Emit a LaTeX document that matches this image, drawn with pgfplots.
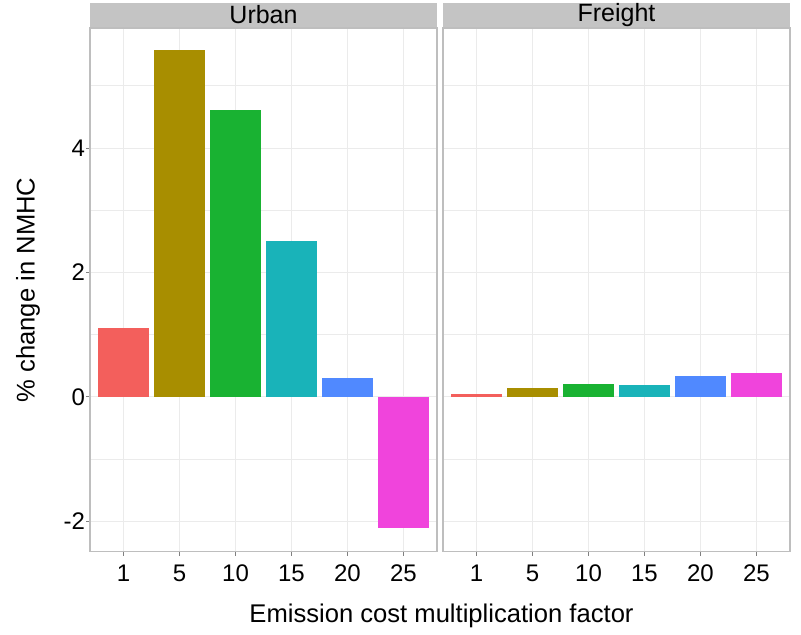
\documentclass[border=0pt]{standalone}
\usepackage{fontspec}
\setmainfont{Liberation Sans}
\usepackage{pgfplots}
\pgfplotsset{compat=1.18}
\definecolor{c1}{RGB}{243,95,92}
\definecolor{c2}{RGB}{168,142,0}
\definecolor{c3}{RGB}{25,178,50}
\definecolor{c4}{RGB}{25,179,185}
\definecolor{c5}{RGB}{80,137,255}
\definecolor{c6}{RGB}{240,68,220}
\definecolor{gridc}{RGB}{235,235,235}
\definecolor{borderc}{RGB}{190,190,190}
\definecolor{stripc}{RGB}{196,196,196}
\pgfplotsset{
  panel/.style={
    scale only axis, width=173.5pt, height=261.85pt,
    xmin=0.4, xmax=6.6, ymin=-2.49, ymax=5.93,
    xtick={1,2,3,4,5,6}, xticklabels={1,5,10,15,20,25},
    ytick={-2,0,2,4}, minor ytick={-1,1,3,5},
    ymajorgrids, yminorgrids, xmajorgrids,
    major grid style={gridc, line width=0.5pt},
    minor grid style={gridc, line width=0.4pt},
    axis line style={borderc, line width=0.6pt},
    tick align=outside, major tick length=2pt, minor tick length=0pt,
    tick style={gray, line width=0.5pt},
    xtick pos=bottom, ytick pos=left,
    ticklabel style={font=\fontsize{12}{14}\selectfont, text=black},
    xticklabel style={yshift=-1pt},
    yticklabel style={xshift=3pt},
    /pgf/number format/assume math mode=true,
    ybar, bar width=0.9,
    every axis plot/.append style={draw=none, bar shift=0pt},
    clip=false,
    every axis title shift=0pt,
    title style={at={(0.5,1)}, anchor=south, yshift=0.3pt, fill=stripc,
      minimum width=173.5pt, minimum height=12pt, inner sep=0pt,
      font=\fontsize{12.5}{14}\selectfont},
  }
}
\begin{document}
\begin{tikzpicture}
\path[use as bounding box] (0,0) rectangle (400.5pt,317pt);
\begin{axis}[panel, at={(45pt,41.15pt)}, anchor=south west, title={Urban}]
\addplot[fill=c1] coordinates {(1,1.10)};
\addplot[fill=c2] coordinates {(2,5.58)};
\addplot[fill=c3] coordinates {(3,4.61)};
\addplot[fill=c4] coordinates {(4,2.50)};
\addplot[fill=c5] coordinates {(5,0.30)};
\addplot[fill=c6] coordinates {(6,-2.11)};
\end{axis}
\begin{axis}[panel, at={(221.5pt,41.15pt)}, anchor=south west, title={Freight},
  yticklabels={}, ytick style={draw=none}]
\addplot[fill=c1] coordinates {(1,0.05)};
\addplot[fill=c2] coordinates {(2,0.15)};
\addplot[fill=c3] coordinates {(3,0.21)};
\addplot[fill=c4] coordinates {(4,0.19)};
\addplot[fill=c5] coordinates {(5,0.34)};
\addplot[fill=c6] coordinates {(6,0.38)};
\end{axis}
\node[rotate=90, font=\fontsize{12.8}{14}\selectfont] at (14pt,172pt) {\% change in NMHC};
\node[font=\fontsize{12.8}{14}\selectfont] at (220.75pt,9pt) {Emission cost multiplication factor};
\end{tikzpicture}
\end{document}
